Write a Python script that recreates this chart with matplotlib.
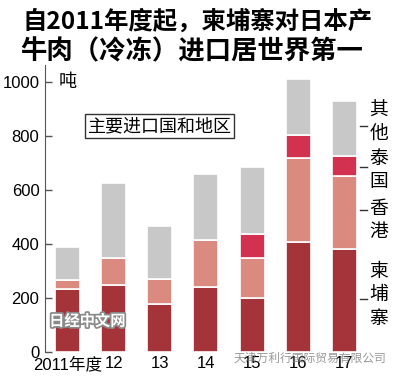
import matplotlib.pyplot as plt
import matplotlib.patheffects as pe
import numpy as np

plt.rcParams['font.family'] = ['Noto Sans CJK SC', 'DejaVu Sans']

# ── Data (tons) ────────────────────────────────────────────────────────────
years = ["2011年度", "12", "13", "14", "15", "16", "17"]
cambodia = [233, 248, 178, 241, 200, 407, 381]
hongkong = [34, 100, 92, 174, 148, 311, 271]
thailand = [0, 0, 0, 0, 89, 85, 74]
others = [122, 278, 197, 244, 248, 207, 204]

series_names = ["柬埔寨", "香港", "泰国", "其他"]
series_colors = ["#a5343a", "#db8a80", "#d2324f", "#c8c8c8"]
label_y = [211, 489, 674, 852]   # where the side labels sit
label_tick = [196, 526, 685, 837]

fig = plt.figure(figsize=(4.0, 3.78), dpi=100)
ax = fig.add_axes([0.1125, 0.069, 0.79, 0.759])

x = np.arange(len(years))
bottom = np.zeros(len(years))
for vals, col in zip([cambodia, hongkong, thailand, others], series_colors):
    vals = np.array(vals, dtype=float)
    ax.bar(x, vals, width=0.54, bottom=bottom, color=col,
           edgecolor="white", linewidth=1.2, zorder=2)
    bottom += vals

ax.set_xlim(-0.486, 6.36)
ax.set_ylim(0, 1063)
ax.set_yticks([0, 200, 400, 600, 800, 1000])
ax.set_xticks(x)
ax.set_xticklabels(years)
for s in ["top", "right", "bottom"]:
    ax.spines[s].set_visible(False)
ax.spines["left"].set_color("#555555")
ax.tick_params(axis="y", direction="in", length=5, width=1, color="#555555",
               labelsize=12, pad=4)
ax.tick_params(axis="x", length=0, labelsize=12, pad=3)
for lab in ax.get_yticklabels() + ax.get_xticklabels():
    lab.set_family(["Liberation Sans", "Noto Sans CJK SC"])
ax.get_xticklabels()[0].set_x(-0.2)

# unit
ax.text(0.0, 1000, "吨", fontsize=13, ha="center", va="center")

# legend box
ax.text(2.0, 837, "主要进口国和地区", fontsize=13, ha="center", va="center",
        bbox=dict(boxstyle="square,pad=0.15", fc="white", ec="#333333", lw=1))

# side labels
for name, ly, ty in zip(series_names, label_y, label_tick):
    ax.plot([6.33, 6.48], [ty, ty], color="#333333", lw=1, clip_on=False)
    ax.text(6.74, ly, "\n".join(name), fontsize=13.5, ha="center",
            va="center", linespacing=1.15, clip_on=False)

# title
fig.text(0.055, 0.942, "自2011年度起，柬埔寨对日本产", fontsize=17.6,
         fontweight="bold", ha="left", va="center")
fig.text(0.05, 0.862, "牛肉（冷冻）进口居世界第一", fontsize=19,
         fontweight="bold", ha="left", va="center")

# watermarks
ax.text(0.43, 115, "日经中文网", fontsize=11, fontweight="bold", color="white",
        ha="center", va="center", zorder=5,
        path_effects=[pe.withStroke(linewidth=2.5, foreground="#8a8a8a")])
fig.text(0.965, 0.052, "天津万利行国际贸易有限公司", fontsize=8.5,
         color="#777777", alpha=0.75, ha="right", va="center")

fig.savefig("out.png", dpi=100)
